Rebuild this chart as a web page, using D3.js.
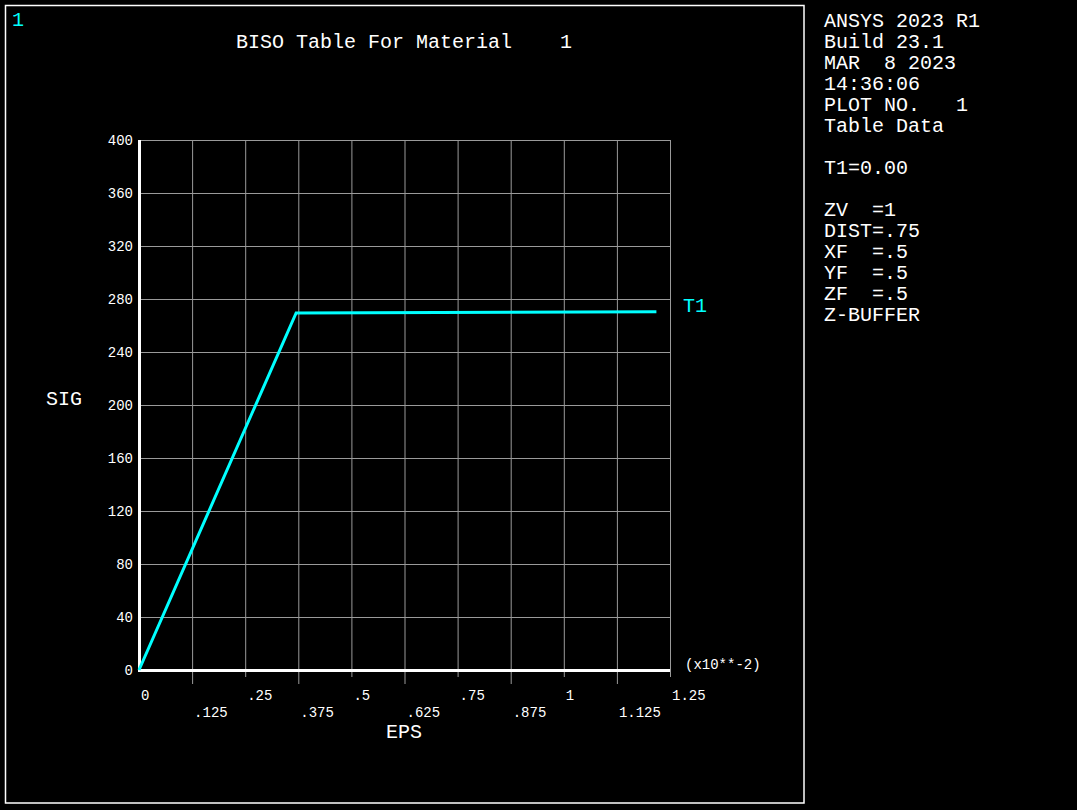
<!DOCTYPE html>
<html>
<head>
<meta charset="utf-8">
<script src="https://cdn.jsdelivr.net/npm/d3@7"></script>
<style>
  body { margin: 0; background: #000; }
  text { font-family: "Liberation Mono", "DejaVu Sans Mono", monospace; fill: #fff; }
</style>
</head>
<body>
<div id="my_dataviz"></div>
<script>
// table data (EPS in x10**-2, SIG)
var epsValues = [0, 0.3699, 1.218];
var sigValues = [0, 269.5, 270.3];
var xTicks = [0, 0.125, 0.25, 0.375, 0.5, 0.625, 0.75, 0.875, 1, 1.125, 1.25];
var xTickLabels = ["0", ".125", ".25", ".375", ".5", ".625", ".75", ".875", "1", "1.125", "1.25"];
var yTicks = [0, 40, 80, 120, 160, 200, 240, 280, 320, 360, 400];
var infoLines = ["ANSYS 2023 R1", "Build 23.1", "MAR  8 2023", "14:36:06", "PLOT NO.   1", "Table Data",
  "", "T1=0.00", "", "ZV  =1", "DIST=.75", "XF  =.5", "YF  =.5", "ZF  =.5", "Z-BUFFER"];

var W = 1077, H = 810;
var svg = d3.select("#my_dataviz")
  .append("svg")
    .attr("width", W)
    .attr("height", H)
    .style("display", "block");

svg.append("rect").attr("width", W).attr("height", H).attr("fill", "#000");

// window frame
svg.append("rect")
  .attr("x", 5.5).attr("y", 5.5)
  .attr("width", 798.5).attr("height", 797.5)
  .attr("fill", "none").attr("stroke", "#fff").attr("stroke-width", 1.5);

svg.append("text").attr("x", 12).attr("y", 26)
  .style("font-size", "20px").style("fill", "#00ffff").text("1");

svg.append("text").attr("x", 236).attr("y", 48)
  .style("font-size", "20px").attr("xml:space", "preserve")
  .text("BISO Table For Material    1");

var x = d3.scaleLinear().domain([0, 1.25]).range([139, 670]);
var y = d3.scaleLinear().domain([0, 400]).range([670, 140]);

// grid
svg.append("g")
  .selectAll("line")
  .data(xTicks.slice(1))
  .enter().append("line")
    .attr("x1", function(d) { return x(d) + 0.5; })
    .attr("x2", function(d) { return x(d) + 0.5; })
    .attr("y1", y(400))
    .attr("y2", function(d, i) { return i % 2 === 0 ? 684 : 677; })
    .attr("stroke", "#9a9a9a").attr("stroke-width", 1);

svg.append("g")
  .selectAll("line")
  .data(yTicks.slice(1))
  .enter().append("line")
    .attr("x1", x(0))
    .attr("x2", x(1.25))
    .attr("y1", function(d) { return y(d) + 0.5; })
    .attr("y2", function(d) { return y(d) + 0.5; })
    .attr("stroke", "#9a9a9a").attr("stroke-width", 1);

// axes
svg.append("line")
  .attr("x1", x(0)).attr("x2", x(1.25))
  .attr("y1", y(0) + 0.5).attr("y2", y(0) + 0.5)
  .attr("stroke", "#fff").attr("stroke-width", 3);
svg.append("line")
  .attr("x1", x(0) + 0.5).attr("x2", x(0) + 0.5)
  .attr("y1", y(0) + 2).attr("y2", y(400))
  .attr("stroke", "#fff").attr("stroke-width", 3);

// tick labels
svg.append("g")
  .selectAll("text")
  .data(xTicks)
  .enter().append("text")
    .attr("x", function(d) { return x(d) + 2; })
    .attr("y", function(d, i) { return i % 2 === 0 ? 700 : 717; })
    .style("font-size", "14px")
    .text(function(d, i) { return xTickLabels[i]; });

svg.append("g")
  .selectAll("text")
  .data(yTicks)
  .enter().append("text")
    .attr("x", 133)
    .attr("y", function(d) { return y(d) + 5; })
    .attr("text-anchor", "end")
    .style("font-size", "14px")
    .text(function(d) { return d; });

svg.append("text").attr("x", 685).attr("y", 669)
  .style("font-size", "14px").text("(x10**-2)");

svg.append("text").attr("x", 46).attr("y", 405)
  .style("font-size", "20px").text("SIG");
svg.append("text").attr("x", 386).attr("y", 738)
  .style("font-size", "20px").text("EPS");

// curve
var pts = epsValues.map(function(e, i) { return [e, sigValues[i]]; });
svg.append("path")
  .datum(pts)
  .attr("fill", "none")
  .attr("stroke", "#00ffff")
  .attr("stroke-width", 3)
  .attr("d", d3.line()
    .x(function(d) { return x(d[0]); })
    .y(function(d) { return y(d[1]); }));

svg.append("text").attr("x", 683).attr("y", 312)
  .style("font-size", "20px").style("fill", "#00ffff").text("T1");

// info panel
svg.append("g")
  .selectAll("text")
  .data(infoLines)
  .enter().append("text")
    .attr("x", 824)
    .attr("y", function(d, i) { return 27 + i * 21; })
    .attr("xml:space", "preserve")
    .style("font-size", "20px")
    .text(function(d) { return d; });
</script>
</body>
</html>
